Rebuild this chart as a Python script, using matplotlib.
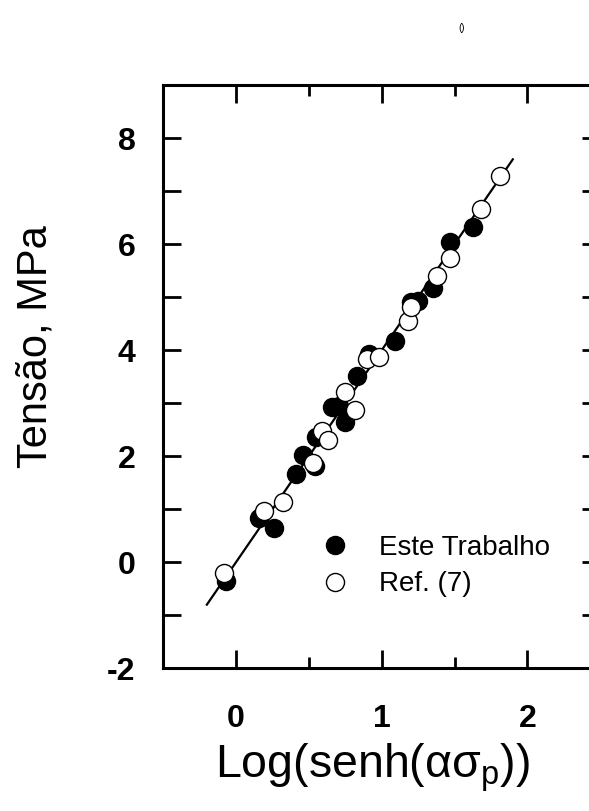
import matplotlib
matplotlib.use('Agg')
import matplotlib.pyplot as plt
from matplotlib.ticker import MultipleLocator

plt.rcParams['font.family'] = ['Liberation Sans', 'DejaVu Sans']
plt.rcParams['mathtext.fontset'] = 'custom'
plt.rcParams['mathtext.rm'] = 'Liberation Sans'
plt.rcParams['axes.unicode_minus'] = False

# Este Trabalho (filled)
este_x = [-0.07, 0.16, 0.26, 0.41, 0.46, 0.54, 0.55, 0.66, 0.71, 0.75, 0.83, 0.91, 1.09, 1.20, 1.25, 1.35, 1.47, 1.63]
este_y = [-0.36, 0.83, 0.64, 1.67, 2.03, 1.82, 2.37, 2.93, 2.95, 2.65, 3.51, 3.92, 4.17, 4.90, 4.92, 5.17, 6.04, 6.32]

# Ref. (7) (open)
ref_x = [-0.08, 0.19, 0.32, 0.53, 0.59, 0.63, 0.75, 0.82, 0.90, 0.98, 1.18, 1.20, 1.38, 1.47, 1.68, 1.81]
ref_y = [-0.21, 0.97, 1.14, 1.87, 2.48, 2.31, 3.22, 2.88, 3.83, 3.88, 4.56, 4.81, 5.40, 5.74, 6.67, 7.29]

# linear fit end points
fit_x = [-0.20, 1.90]
fit_y = [-0.80, 7.60]

fig = plt.figure(figsize=(5.89, 8.11), dpi=100)
ax = fig.add_axes([0.277, 0.176, 0.742, 0.719])

ax.plot(fit_x, fit_y, color='black', lw=1.6, zorder=1)
ax.plot(este_x, este_y, 'o', ms=13, mfc='black', mec='black', mew=1,
        label='Este Trabalho', zorder=2)
ax.plot(ref_x, ref_y, 'o', ms=13, mfc='white', mec='black', mew=1,
        label='Ref. (7)', zorder=3)

ax.set_xlim(-0.5, 2.5)
ax.set_ylim(-2, 9)
ax.xaxis.set_major_locator(MultipleLocator(1))
ax.xaxis.set_minor_locator(MultipleLocator(0.5))
ax.yaxis.set_major_locator(MultipleLocator(2))
ax.yaxis.set_minor_locator(MultipleLocator(1))

for s in ax.spines.values():
    s.set_linewidth(2.2)
ax.tick_params(which='both', direction='in', top=True, right=True, width=2)
ax.tick_params(axis='x', which='major', length=13, pad=26, labelsize=23)
ax.tick_params(axis='x', which='minor', length=8)
ax.tick_params(axis='y', which='both', length=13)
ax.tick_params(axis='y', which='major', pad=20, labelsize=23)
for lab in ax.get_xticklabels() + ax.get_yticklabels():
    lab.set_fontweight('bold')

ax.set_xlabel('Log(senh(ασ$_\\mathregular{p}$))', fontsize=33.5)
ax.xaxis.set_label_coords(0.478, -0.125)
ax.set_ylabel('Tensão, MPa', fontsize=30)
ax.yaxis.set_label_coords(-0.247, 0.552)

ax.legend(loc='upper left', bbox_to_anchor=(0.335, 0.248), frameon=False,
          fontsize=20, handlelength=1.0, handletextpad=1.1, labelspacing=0.38,
          borderaxespad=0)

fig.text(0.783, 0.965, '()', fontsize=7, ha='center', va='center')

fig.savefig('out.png', dpi=100)
